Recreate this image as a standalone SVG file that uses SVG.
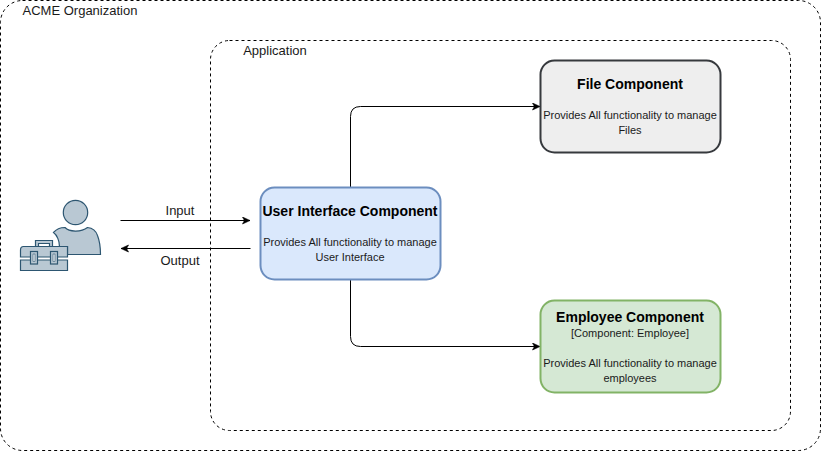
<svg xmlns="http://www.w3.org/2000/svg" width="821" height="451" viewBox="0 0 821 451">
<style>
text{font-family:"Liberation Sans",Arial,Helvetica,sans-serif;fill:#000;text-anchor:middle}
.lbl{font-size:13px;fill:#1a1a1a}
.title{font-size:14px;font-weight:bold}
.small{font-size:11px;fill:#1a1a1a}
.boundary{fill:none;stroke:#000;stroke-width:1;stroke-dasharray:3 3}
.comp{stroke-width:2}
.conn{fill:none;stroke:#000;stroke-width:1}
.icon{fill:#b9c8d3;stroke:#2d5671;stroke-width:1.2}
</style>
<defs>
<marker id="arrow" markerUnits="userSpaceOnUse" markerWidth="10" markerHeight="10" refX="8" refY="4" orient="auto">
<path d="M0.5 0.5L8 4L0.5 7.5L2.4 4Z" fill="#000" stroke="#000" stroke-width="0.6"/>
</marker>
</defs>
<rect width="821" height="451" fill="#fff"/>
<g id="organization">
<rect class="boundary" x="0.500" y="0.500" width="820" height="450" rx="22" ry="22"/>
<text class="lbl" x="80" y="15">ACME Organization</text>
</g>
<g id="application">
<rect class="boundary" x="210.500" y="40.500" width="580" height="390" rx="19" ry="19"/>
<text class="lbl" x="275" y="55">Application</text>
</g>
<g id="connectors">
<path class="conn" d="M120.500 220.500H250" marker-end="url(#arrow)"/>
<path class="conn" d="M250.500 248.500H121" marker-end="url(#arrow)"/>
<path class="conn" d="M350.500 187V116.500Q350.500 106.500 360.500 106.500H540" marker-end="url(#arrow)"/>
<path class="conn" d="M350.500 279V336.500Q350.500 346.500 360.500 346.500H540" marker-end="url(#arrow)"/>
<text class="lbl" x="180" y="215">Input</text>
<text class="lbl" x="180" y="265">Output</text>
</g>
<g id="user">
<circle class="icon" cx="75.500" cy="212.500" r="12.200"/>
<path class="icon" d="M53.500 232.500C56 229.500 61 227.500 65 227.500C69 232 81 232.500 87.500 227.500C92 228 96 231 97.500 235.500C100 242 100.500 249 100.500 254.500H67.500V246.500H59.500C59.500 241 57 235 53.500 232.500Z"/>
<path class="icon" d="M35.500 246.500V240.500H52.500V246.500H49.500V243.500H38.500V246.500Z"/>
<path class="icon" d="M20.500 250C20.500 248 21.500 246.500 23.500 246.500H67.500V257H20.500Z"/>
<path class="icon" d="M20.500 260H67.500V270.500H20.500Z"/>
<rect class="icon" x="30.500" y="251.500" width="7" height="12.500" fill="#b9c8d3"/>
<rect x="33" y="254" width="2" height="7.500" fill="#f0f3f5" stroke="#2d5671" stroke-width="0.6"/>
<rect class="icon" x="50.500" y="251.500" width="7" height="12.500"/>
<rect x="53" y="254" width="2" height="7.500" fill="#f0f3f5" stroke="#2d5671" stroke-width="0.6"/>
</g>
<g id="user-interface">
<rect class="comp" x="260.500" y="187.500" width="180" height="92" rx="14" ry="14" fill="#dae8fc" stroke="#6c8ebf"/>
<text class="title" x="350" y="216">User Interface Component</text>
<text class="small" x="350" y="246">Provides All functionality to manage</text>
<text class="small" x="350" y="261">User Interface</text>
</g>
<g id="file-component">
<rect class="comp" x="540.500" y="60.500" width="180" height="92" rx="14" ry="14" fill="#eeeeee" stroke="#36393d"/>
<text class="title" x="630" y="89">File Component</text>
<text class="small" x="630" y="119">Provides All functionality to manage</text>
<text class="small" x="630" y="134">Files</text>
</g>
<g id="employee-component">
<rect class="comp" x="540.500" y="300.500" width="180" height="92" rx="14" ry="14" fill="#d5e8d4" stroke="#82b366"/>
<text class="title" x="630" y="322">Employee Component</text>
<text class="small" x="630" y="337">[Component: Employee]</text>
<text class="small" x="630" y="367">Provides All functionality to manage</text>
<text class="small" x="630" y="382">employees</text>
</g>
</svg>
